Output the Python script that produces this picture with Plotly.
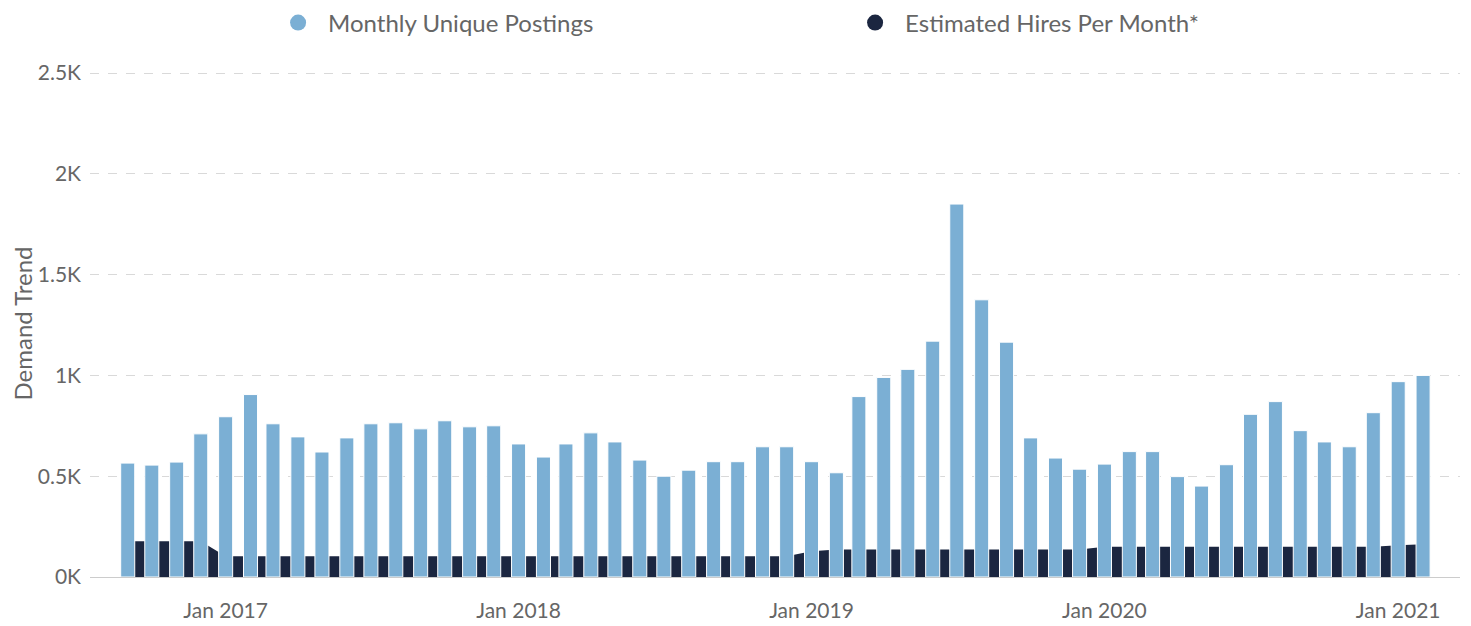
import plotly.graph_objects as go
import pandas as pd

months = pd.date_range("2016-09-01", "2021-02-01", freq="MS").strftime("%Y-%m-%d").tolist()

postings = [565, 555, 570, 710, 795, 905, 760, 695, 620, 690, 760, 765,
            735, 775, 745, 750, 660, 595, 660, 715, 670, 580, 500, 530,
            572, 572, 646, 646, 572, 517, 895, 990, 1030, 1170, 1850, 1375,
            1165, 690, 590, 535, 560, 622, 622, 498, 451, 557, 807, 870,
            726, 670, 646, 815, 969, 1000]

hires = [177, 177, 177, 177, 103, 103, 103, 103, 103, 103, 103, 103,
         103, 103, 103, 103, 103, 103, 103, 103, 103, 103, 103, 103,
         103, 103, 103, 103, 128, 137, 137, 137, 137, 137, 137, 137,
         137, 137, 137, 137, 150, 150, 150, 150, 150, 150, 150, 150,
         150, 150, 150, 150, 157, 162]

tick_dates = ["2017-01-01", "2018-01-01", "2019-01-01", "2020-01-01", "2021-01-01"]
tick_labels = ["Jan 2017", "Jan 2018", "Jan 2019", "Jan 2020", "Jan 2021"]

y_ticks = [0, 500, 1000, 1500, 2000, 2500]
y_labels = ["0K", "0.5K", "1K", "1.5K", "2K", "2.5K"]

series_names = ["Monthly Unique Postings", "Estimated Hires Per Month*"]
LIGHT = "#7bafd4"
DARK = "#1b2640"
TEXT = "#666666"
FONT = "Lato"

x_range = ["2016-07-16", "2021-03-19"]
y_range = [0, 2515]
bar_width_ms = 17.5 * 86400000

fig = go.Figure()

# area (drawn on base axes so it sits behind the bars)
fig.add_trace(go.Scatter(
    x=months, y=hires, mode="lines", line=dict(color=DARK, width=0),
    fill="tozeroy", fillcolor=DARK, showlegend=False, hoverinfo="skip",
    xaxis="x", yaxis="y"))

# bars on overlaying axes
fig.add_trace(go.Bar(
    x=months, y=postings, width=[bar_width_ms] * len(months),
    marker=dict(color=LIGHT, line=dict(color="#ffffff", width=1)),
    showlegend=False, xaxis="x2", yaxis="y2"))

# legend entries with circle symbols
fig.add_trace(go.Scatter(x=[None], y=[None], mode="markers", name=series_names[0],
                         marker=dict(color=LIGHT, size=22, symbol="circle")))
fig.add_trace(go.Scatter(x=[None], y=[None], mode="markers", name=series_names[1],
                         marker=dict(color=DARK, size=22, symbol="circle")))

fig.update_layout(
    width=1463, height=618,
    margin=dict(l=82, r=11, t=62, b=49, autoexpand=False),
    paper_bgcolor="white", plot_bgcolor="white",
    font=dict(family=FONT, color=TEXT, size=21),
    showlegend=True,
    legend=dict(orientation="h", x=0.13, xanchor="left", y=1.0927, yanchor="middle",
                yref="paper",
                font=dict(size=24, color=TEXT, family=FONT),
                entrywidth=512, entrywidthmode="pixels", itemwidth=50,
                bgcolor="rgba(0,0,0,0)", itemclick=False),
    xaxis=dict(type="date", range=x_range, tickvals=tick_dates, ticktext=tick_labels,
               showgrid=False, showline=True, linecolor="#cccccc", linewidth=1,
               ticks="", ticklabelstandoff=15, zeroline=False, automargin=False,
               tickfont=dict(size=21, color=TEXT, family=FONT)),
    yaxis=dict(range=y_range, tickvals=y_ticks, ticktext=y_labels,
               showgrid=True, gridcolor="#d9d9d9", griddash="dash", gridwidth=1,
               zeroline=False, showline=False, ticks="", ticklabelstandoff=8,
               automargin=False,
               tickfont=dict(size=21, color=TEXT, family=FONT),
               title=dict(text="Demand Trend", standoff=4,
                          font=dict(size=24, color=TEXT, family=FONT))),
    xaxis2=dict(type="date", range=x_range, overlaying="x", visible=False),
    yaxis2=dict(range=y_range, overlaying="y", visible=False),
    barmode="overlay",
)

fig.write_html("out.html")
